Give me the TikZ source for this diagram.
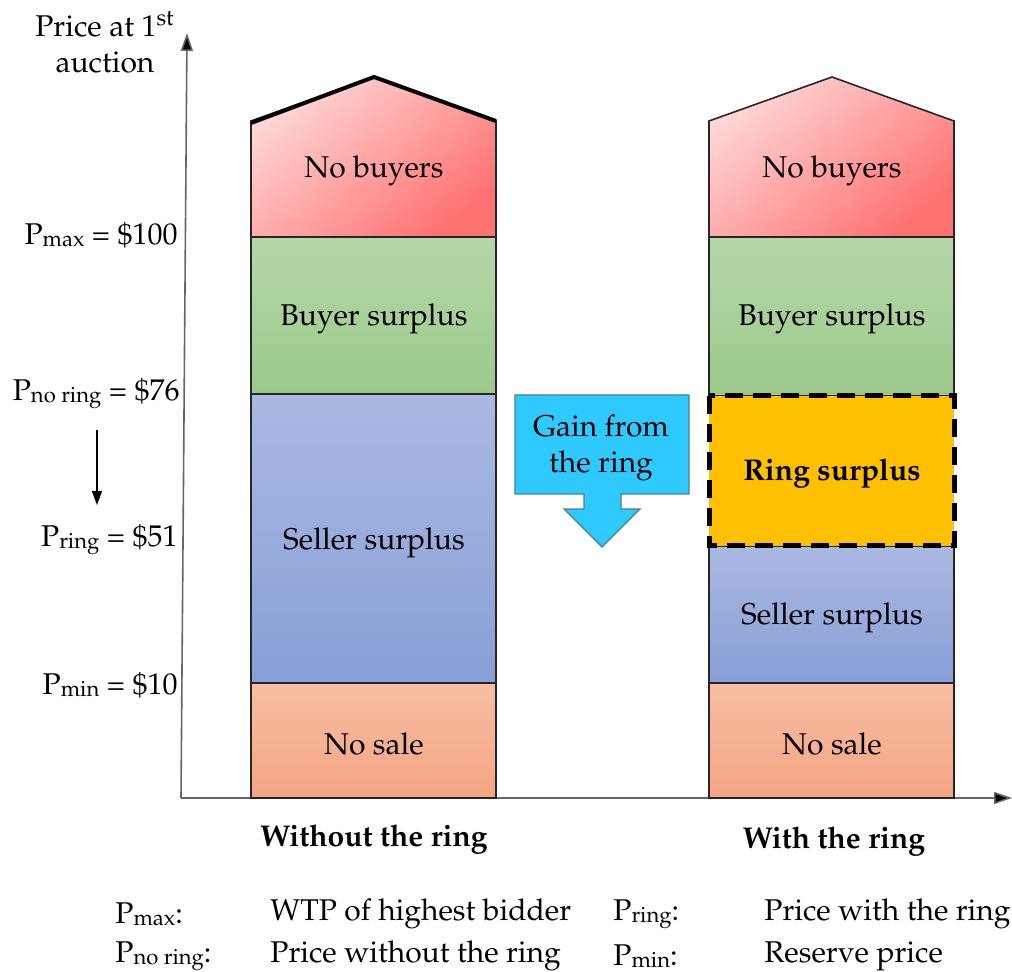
\documentclass[tikz,border=0pt]{standalone}
\usepackage[T1]{fontenc}
\usepackage{mathpazo}
\usetikzlibrary{arrows.meta}
\definecolor{NoBuyLight}{HTML}{FFD6D6}
\definecolor{NoBuyDark}{HTML}{FF7272}
\definecolor{BuyTop}{HTML}{B6D7A9}
\definecolor{BuyBot}{HTML}{9BC98A}
\definecolor{SellTop}{HTML}{AAB9E1}
\definecolor{SellBot}{HTML}{889FD7}
\definecolor{SaleTop}{HTML}{F7BEA4}
\definecolor{SaleBot}{HTML}{F5A483}
\definecolor{RingGold}{HTML}{FFC000}
\definecolor{GainBlue}{HTML}{2DC9FF}
\definecolor{GainEdge}{HTML}{4C7F92}
\newcommand{\Pl}[1]{P{\fontsize{11}{11}\selectfont\raisebox{-.2ex}{#1}}}

\begin{document}
\begin{tikzpicture}[x=0.5pt, y=-0.5pt, font=\fontsize{15}{18}\selectfont,
  blk/.style={draw=black!85, line width=0.8pt},
  nobuy/.style={blk, shading=axis, top color=NoBuyLight, bottom color=NoBuyDark, shading angle=40},
  buyer/.style={blk, top color=BuyTop, bottom color=BuyBot},
  seller/.style={blk, top color=SellTop, bottom color=SellBot},
  nosale/.style={blk, top color=SaleTop, bottom color=SaleBot},
  ring/.style={fill=RingGold, draw=black, line width=2.5pt, dash pattern=on 9pt off 5pt},
  axis/.style={draw=black!60, line width=0.8pt, -{Triangle[length=9pt,width=6pt,fill=black]}},
  price/.style={anchor=east, inner sep=0pt},
  legend/.style={anchor=west, inner sep=0pt}]
\useasboundingbox (0,0) rectangle (1012,972);
% axes
\draw[axis] (181,798) -- (187,33);
\draw[axis] (181,798) -- (1012,798);
\node[align=center, inner sep=0pt] (ylab) at (105,42) {Price at 1\textsuperscript{st}\\auction};
% without the ring
\shade[nobuy] (251,237) -- (251,121) -- (374,77) -- (496,121) -- (496,237) -- cycle;
\draw[line width=2pt, line join=round] (251,123) -- (374,77) -- (496,121);
\shade[buyer] (251,237) rectangle (496,394);
\shade[seller] (251,394) rectangle (496,683);
\shade[nosale] (251,683) rectangle (496,798);
\node (nb1) at (374,171) {No buyers};
\node (bs1) at (374,319) {Buyer surplus};
\node (ss1) at (374,543) {Seller surplus};
\node (ns1) at (374,744) {No sale};
% with the ring
\shade[nobuy] (709,237) -- (709,121) -- (832,77) -- (954,121) -- (954,237) -- cycle;
\shade[buyer] (709,237) rectangle (954,396);
\shade[seller] (709,546) rectangle (954,683);
\shade[nosale] (709,683) rectangle (954,798);
\path[ring] (709,396) rectangle (954,546);
\node (nb2) at (832,171) {No buyers};
\node (bs2) at (832,319) {Buyer surplus};
\node[font=\fontsize{15}{18}\selectfont\bfseries] (rs2) at (832,474) {Ring surplus};
\node (ss2) at (832,618) {Seller surplus};
\node (ns2) at (832,744) {No sale};
% gain arrow
\draw[fill=GainBlue, draw=GainEdge, line width=0.6pt]
  (515,395) -- (689,395) -- (689,494) -- (621,494) -- (621,509) -- (640,509)
  -- (602,547) -- (564,509) -- (584,509) -- (584,494) -- (515,494) -- cycle;
\node[align=center, inner sep=0pt] (gain) at (601,448) {Gain from\\the ring};
% prices
\node[price] (pmax) at (178,235) {\Pl{max} = \$100};
\node[price] (pnoring) at (180,394) {\Pl{no ring} = \$76};
\node[price] (pring) at (178,540) {\Pl{ring} = \$51};
\node[price] (pmin) at (178,685) {\Pl{min} = \$10};
\draw[-{Triangle[length=7pt,width=5pt]}, line width=0.6pt] (97,430) -- (97,505);
% column titles
\node[font=\fontsize{15}{18}\selectfont\bfseries] (woring) at (374,840) {Without the ring};
\node[font=\fontsize{15}{18}\selectfont\bfseries] (wring) at (834,842) {With the ring};
% legend
\node[legend] (lmax) at (115,914) {\Pl{max}:};
\node[legend] (lmaxt) at (270,914) {WTP of highest bidder};
\node[legend] (lring) at (613,914) {\Pl{ring}:};
\node[legend] (lringt) at (764,914) {Price with the ring};
\node[legend] (lnoring) at (115,956) {\Pl{no ring}:};
\node[legend] (lnoringt) at (270,956) {Price without the ring};
\node[legend] (lmin) at (613,956) {\Pl{min}:};
\node[legend] (lmint) at (764,956) {Reserve price};
\end{tikzpicture}
\end{document}
